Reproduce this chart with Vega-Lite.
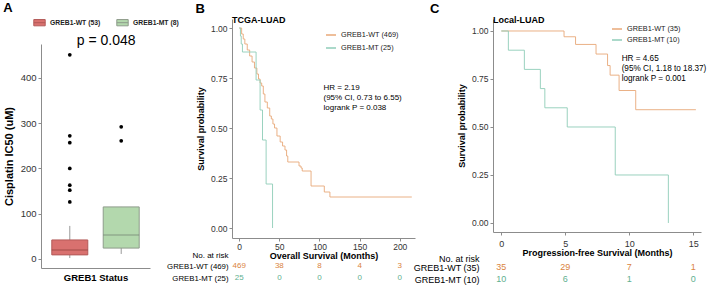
{
  "$schema": "https://vega.github.io/schema/vega-lite/v6.json",
  "padding": {"left": 3, "top": 2, "right": 0, "bottom": 0},
  "spacing": 16,
  "resolve": {"scale": {"color": "independent"}, "legend": {"color": "independent"}},
  "config": {
    "view": {"stroke": null},
    "font": "Liberation Sans",
    "axis": {"grid": false, "domainColor": "#8c8c8c", "tickColor": "#8c8c8c", "labelColor": "#333333", "titleColor": "#000000", "labelFontSize": 8.5, "titleFontSize": 9, "titleFontWeight": "bold", "tickSize": 3, "labelPadding": 2},
    "legend": {"labelColor": "#222222"},
    "title": {"color": "#000000"}
  },
  "datasets": {
    "boxstats": [
      {"group": "GREB1-WT (53)", "lo": 2, "q1": 9, "med": 20, "q3": 42, "hi": 73},
      {"group": "GREB1-MT (8)", "lo": 11, "q1": 24, "med": 53, "q3": 115, "hi": 115}
    ],
    "outliers": [
      {"group": "GREB1-WT (53)", "v": 451},
      {"group": "GREB1-WT (53)", "v": 272},
      {"group": "GREB1-WT (53)", "v": 257},
      {"group": "GREB1-WT (53)", "v": 200},
      {"group": "GREB1-WT (53)", "v": 163},
      {"group": "GREB1-WT (53)", "v": 152},
      {"group": "GREB1-WT (53)", "v": 126},
      {"group": "GREB1-MT (8)", "v": 292},
      {"group": "GREB1-MT (8)", "v": 261}
    ],
    "tcga": [
      {"grp": "GREB1-WT (469)", "t": 0, "s": 1.0},
      {"grp": "GREB1-WT (469)", "t": 3, "s": 0.97},
      {"grp": "GREB1-WT (469)", "t": 5, "s": 0.945},
      {"grp": "GREB1-WT (469)", "t": 7, "s": 0.92},
      {"grp": "GREB1-WT (469)", "t": 10, "s": 0.89},
      {"grp": "GREB1-WT (469)", "t": 13, "s": 0.86},
      {"grp": "GREB1-WT (469)", "t": 16, "s": 0.83},
      {"grp": "GREB1-WT (469)", "t": 19, "s": 0.8},
      {"grp": "GREB1-WT (469)", "t": 22, "s": 0.77},
      {"grp": "GREB1-WT (469)", "t": 24, "s": 0.745},
      {"grp": "GREB1-WT (469)", "t": 26, "s": 0.725},
      {"grp": "GREB1-WT (469)", "t": 28, "s": 0.71},
      {"grp": "GREB1-WT (469)", "t": 30, "s": 0.67},
      {"grp": "GREB1-WT (469)", "t": 32, "s": 0.63},
      {"grp": "GREB1-WT (469)", "t": 35, "s": 0.6},
      {"grp": "GREB1-WT (469)", "t": 38, "s": 0.56},
      {"grp": "GREB1-WT (469)", "t": 40, "s": 0.545},
      {"grp": "GREB1-WT (469)", "t": 42, "s": 0.52},
      {"grp": "GREB1-WT (469)", "t": 44, "s": 0.5},
      {"grp": "GREB1-WT (469)", "t": 47, "s": 0.46},
      {"grp": "GREB1-WT (469)", "t": 51, "s": 0.43},
      {"grp": "GREB1-WT (469)", "t": 54, "s": 0.41},
      {"grp": "GREB1-WT (469)", "t": 57, "s": 0.39},
      {"grp": "GREB1-WT (469)", "t": 59, "s": 0.36},
      {"grp": "GREB1-WT (469)", "t": 60.5, "s": 0.33},
      {"grp": "GREB1-WT (469)", "t": 74.5, "s": 0.31},
      {"grp": "GREB1-WT (469)", "t": 77, "s": 0.3},
      {"grp": "GREB1-WT (469)", "t": 78.5, "s": 0.285},
      {"grp": "GREB1-WT (469)", "t": 89.5, "s": 0.21},
      {"grp": "GREB1-WT (469)", "t": 106, "s": 0.18},
      {"grp": "GREB1-WT (469)", "t": 113, "s": 0.155},
      {"grp": "GREB1-WT (469)", "t": 215, "s": 0.155},
      {"grp": "GREB1-MT (25)", "t": 0, "s": 1.0},
      {"grp": "GREB1-MT (25)", "t": 1.5, "s": 0.96},
      {"grp": "GREB1-MT (25)", "t": 2.5, "s": 0.92},
      {"grp": "GREB1-MT (25)", "t": 4, "s": 0.88},
      {"grp": "GREB1-MT (25)", "t": 21, "s": 0.74},
      {"grp": "GREB1-MT (25)", "t": 26, "s": 0.59},
      {"grp": "GREB1-MT (25)", "t": 29, "s": 0.44},
      {"grp": "GREB1-MT (25)", "t": 33.5, "s": 0.22},
      {"grp": "GREB1-MT (25)", "t": 41.5, "s": 0.0}
    ],
    "local": [
      {"grp": "GREB1-WT (35)", "t": 0, "s": 1.0},
      {"grp": "GREB1-WT (35)", "t": 4.9, "s": 0.97},
      {"grp": "GREB1-WT (35)", "t": 5.8, "s": 0.93},
      {"grp": "GREB1-WT (35)", "t": 7.4, "s": 0.88},
      {"grp": "GREB1-WT (35)", "t": 8.3, "s": 0.82},
      {"grp": "GREB1-WT (35)", "t": 8.5, "s": 0.77},
      {"grp": "GREB1-WT (35)", "t": 9.2, "s": 0.69},
      {"grp": "GREB1-WT (35)", "t": 10.5, "s": 0.59},
      {"grp": "GREB1-WT (35)", "t": 15.2, "s": 0.59},
      {"grp": "GREB1-MT (10)", "t": 0, "s": 1.0},
      {"grp": "GREB1-MT (10)", "t": 0.55, "s": 0.9},
      {"grp": "GREB1-MT (10)", "t": 1.8, "s": 0.8},
      {"grp": "GREB1-MT (10)", "t": 3.05, "s": 0.7},
      {"grp": "GREB1-MT (10)", "t": 3.4, "s": 0.6},
      {"grp": "GREB1-MT (10)", "t": 5.15, "s": 0.5},
      {"grp": "GREB1-MT (10)", "t": 8.9, "s": 0.25},
      {"grp": "GREB1-MT (10)", "t": 13.05, "s": 0.0}
    ],
    "riskB": [
      {"row": "GREB1-WT (469)", "t": 0, "n": 469},
      {"row": "GREB1-WT (469)", "t": 50, "n": 38},
      {"row": "GREB1-WT (469)", "t": 100, "n": 8},
      {"row": "GREB1-WT (469)", "t": 150, "n": 4},
      {"row": "GREB1-WT (469)", "t": 200, "n": 3},
      {"row": "GREB1-MT (25)", "t": 0, "n": 25},
      {"row": "GREB1-MT (25)", "t": 50, "n": 0},
      {"row": "GREB1-MT (25)", "t": 100, "n": 0},
      {"row": "GREB1-MT (25)", "t": 150, "n": 0},
      {"row": "GREB1-MT (25)", "t": 200, "n": 0}
    ],
    "riskC": [
      {"row": "GREB1-WT (35)", "t": 0, "n": 35},
      {"row": "GREB1-WT (35)", "t": 5, "n": 29},
      {"row": "GREB1-WT (35)", "t": 10, "n": 7},
      {"row": "GREB1-WT (35)", "t": 15, "n": 1},
      {"row": "GREB1-MT (10)", "t": 0, "n": 10},
      {"row": "GREB1-MT (10)", "t": 5, "n": 6},
      {"row": "GREB1-MT (10)", "t": 10, "n": 1},
      {"row": "GREB1-MT (10)", "t": 15, "n": 0}
    ]
  },
  "hconcat": [
    {
      "title": {"text": "A", "anchor": "start", "frame": "bounds", "fontSize": 13, "fontWeight": "bold", "offset": 4},
      "spacing": 0,
      "vconcat": [
        {
          "width": 109,
          "height": 14,
          "data": {"values": []},
          "mark": "point"
        },
        {
          "width": 109,
          "height": 224,
          "layer": [
            {
              "data": {"name": "boxstats"},
              "mark": {"type": "rule", "color": "#9a9a9a", "strokeWidth": 1},
              "encoding": {
                "x": {"field": "group", "type": "nominal", "sort": ["GREB1-WT (53)", "GREB1-MT (8)"], "scale": {"paddingInner": 0.3, "paddingOuter": 0.21}, "axis": {"labels": false, "ticks": false, "title": "GREB1 Status", "titleFontSize": 9.5, "titlePadding": 4}},
                "y": {"field": "lo", "type": "quantitative", "scale": {"domain": [-20, 475], "nice": false, "zero": false}, "axis": {"values": [0, 100, 200, 300, 400], "title": "Cisplatin IC50 (uM)", "titleFontSize": 11, "labelFontSize": 9.5, "titlePadding": 6}},
                "y2": {"field": "hi"}
              }
            },
            {
              "data": {"name": "boxstats"},
              "mark": {"type": "bar", "strokeWidth": 1},
              "encoding": {
                "x": {"field": "group", "type": "nominal", "sort": ["GREB1-WT (53)", "GREB1-MT (8)"]},
                "y": {"field": "q1", "type": "quantitative"},
                "y2": {"field": "q3"},
                "fill": {"field": "group", "type": "nominal", "scale": {"domain": ["GREB1-WT (53)", "GREB1-MT (8)"], "range": ["#D9716F", "#B3D8AD"]}, "legend": {"orient": "none", "legendX": -8, "legendY": -3, "direction": "horizontal", "title": null, "symbolType": "M-1,-0.55L1,-0.55L1,0.55L-1,0.55Z M-1,0L1,0", "symbolSize": 130, "symbolStrokeWidth": 1, "labelFontSize": 6.8, "labelFontWeight": "bold", "labelOffset": 4, "columnPadding": 13}},
                "stroke": {"field": "group", "type": "nominal", "scale": {"domain": ["GREB1-WT (53)", "GREB1-MT (8)"], "range": ["#B35A58", "#8E9C8B"]}, "legend": {"orient": "none", "legendX": -8, "legendY": -3, "direction": "horizontal", "title": null, "symbolType": "M-1,-0.55L1,-0.55L1,0.55L-1,0.55Z M-1,0L1,0", "symbolSize": 130, "symbolStrokeWidth": 1, "labelFontSize": 6.8, "labelFontWeight": "bold", "labelOffset": 4, "columnPadding": 13}}
              }
            },
            {
              "data": {"name": "boxstats"},
              "mark": {"type": "tick", "thickness": 1, "size": 36},
              "encoding": {
                "x": {"field": "group", "type": "nominal", "sort": ["GREB1-WT (53)", "GREB1-MT (8)"]},
                "y": {"field": "med", "type": "quantitative"},
                "color": {"condition": {"test": "datum.group === 'GREB1-WT (53)'", "value": "#8B3C3B"}, "value": "#6E7C6C"}
              }
            },
            {
              "data": {"name": "outliers"},
              "mark": {"type": "circle", "size": 14, "color": "#000000", "opacity": 1},
              "encoding": {
                "x": {"field": "group", "type": "nominal", "sort": ["GREB1-WT (53)", "GREB1-MT (8)"]},
                "y": {"field": "v", "type": "quantitative"}
              }
            },
            {
              "data": {"values": [{}]},
              "mark": {"type": "text", "fontSize": 14, "dx": -15, "baseline": "middle"},
              "encoding": {
                "x": {"datum": "GREB1-MT (8)"},
                "y": {"datum": 482},
                "text": {"value": "p = 0.048"}
              }
            }
          ]
        }
      ]
    },
    {
      "spacing": -3,
      "resolve": {"scale": {"color": "independent"}, "legend": {"color": "independent"}},
      "hconcat": [
        {
          "title": {"text": "B", "anchor": "start", "frame": "bounds", "dx": 29, "fontSize": 13, "fontWeight": "bold", "offset": 0},
          "spacing": 0,
          "vconcat": [
            {
              "width": 183,
              "height": 219,
              "title": {"text": "TCGA-LUAD", "anchor": "start", "frame": "group", "fontSize": 9, "fontWeight": "bold", "offset": -6},
              "layer": [
                {
                  "data": {"name": "tcga"},
                  "mark": {"type": "line", "interpolate": "step-after", "strokeWidth": 0.9},
                  "encoding": {
                    "x": {"field": "t", "type": "quantitative", "scale": {"domain": [-9, 219], "nice": false, "zero": false}, "axis": {"values": [0, 50, 100, 150, 200], "title": null, "labelPadding": 1}},
                    "y": {"field": "s", "type": "quantitative", "scale": {"domain": [-0.05, 1.045], "nice": false, "zero": false}, "axis": {"values": [0, 0.25, 0.5, 0.75, 1], "format": ".2f", "title": "Survival probability", "titlePadding": 5}},
                    "color": {"field": "grp", "type": "nominal", "scale": {"domain": ["GREB1-WT (469)", "GREB1-MT (25)"], "range": ["#E8A878", "#8FCDB8"]}, "legend": {"orient": "none", "legendX": 93, "legendY": 10, "title": null, "symbolType": "stroke", "symbolStrokeWidth": 1.5, "symbolSize": 100, "labelFontSize": 7.3, "rowPadding": 3}}
                  }
                },
                {
                  "data": {"values": [{}]},
                  "mark": {"type": "text", "align": "left", "baseline": "top", "fontSize": 8, "lineHeight": 10},
                  "encoding": {
                    "x": {"datum": 105},
                    "y": {"datum": 0.72},
                    "text": {"value": ["HR = 2.19", "(95% CI, 0.73 to 6.55)", "logrank P = 0.038"]}
                  }
                }
              ]
            },
            {
              "width": 183,
              "height": 24,
              "data": {"name": "riskB"},
              "mark": {"type": "text", "fontSize": 8},
              "encoding": {
                "x": {"field": "t", "type": "quantitative", "scale": {"domain": [-9, 219], "nice": false, "zero": false}, "axis": {"orient": "top", "labels": false, "ticks": false, "domain": false, "title": "Overall Survival (Months)", "titlePadding": 0, "titleFontSize": 9}},
                "y": {"field": "row", "type": "nominal", "sort": ["GREB1-WT (469)", "GREB1-MT (25)"], "axis": {"title": "No. at risk", "titleAngle": 0, "titleAlign": "right", "titleBaseline": "middle", "titleX": -4, "titleY": -5, "titleFontWeight": "normal", "titleFontSize": 8, "domain": false, "ticks": false, "labelPadding": 4, "labelFontSize": 7.8, "labelColor": "#000000"}},
                "text": {"field": "n", "type": "nominal"},
                "color": {"condition": {"test": "indexof(datum.row, 'WT') >= 0", "value": "#DA8440"}, "value": "#5FB08F"}
              }
            }
          ]
        },
        {
          "title": {"text": "C", "anchor": "start", "frame": "bounds", "dx": 17, "fontSize": 13, "fontWeight": "bold", "offset": 0},
          "spacing": 0,
          "vconcat": [
            {
              "width": 208,
              "height": 213,
              "title": {"text": "Local-LUAD", "anchor": "start", "frame": "group", "fontSize": 9, "fontWeight": "bold", "offset": -6},
              "layer": [
                {
                  "data": {"name": "local"},
                  "mark": {"type": "line", "interpolate": "step-after", "strokeWidth": 0.9},
                  "encoding": {
                    "x": {"field": "t", "type": "quantitative", "scale": {"domain": [-0.65, 15.6], "nice": false, "zero": false}, "axis": {"values": [0, 5, 10, 15], "title": null, "labelFontSize": 9, "labelPadding": 4}},
                    "y": {"field": "s", "type": "quantitative", "scale": {"domain": [-0.047, 1.0625], "nice": false, "zero": false}, "axis": {"values": [0, 0.25, 0.5, 0.75, 1], "format": ".2f", "title": "Survival probability", "titlePadding": 5}},
                    "color": {"field": "grp", "type": "nominal", "scale": {"domain": ["GREB1-WT (35)", "GREB1-MT (10)"], "range": ["#E8A878", "#8FCDB8"]}, "legend": {"orient": "none", "legendX": 118, "legendY": 4, "title": null, "symbolType": "stroke", "symbolStrokeWidth": 1.5, "symbolSize": 100, "labelFontSize": 7.3, "rowPadding": 1}}
                  }
                },
                {
                  "data": {"values": [{}]},
                  "mark": {"type": "text", "align": "left", "baseline": "top", "fontSize": 8.2, "lineHeight": 10},
                  "encoding": {
                    "x": {"datum": 9.4},
                    "y": {"datum": 0.875},
                    "text": {"value": ["HR = 4.65", "(95% CI, 1.18 to 18.37)", "logrank P = 0.001"]}
                  }
                }
              ]
            },
            {
              "width": 208,
              "height": 24,
              "data": {"name": "riskC"},
              "mark": {"type": "text", "fontSize": 9},
              "encoding": {
                "x": {"field": "t", "type": "quantitative", "scale": {"domain": [-0.65, 15.6], "nice": false, "zero": false}, "axis": {"orient": "top", "labels": false, "ticks": false, "domain": false, "title": "Progression-free Survival (Months)", "titlePadding": 4, "titleFontSize": 9}},
                "y": {"field": "row", "type": "nominal", "sort": ["GREB1-WT (35)", "GREB1-MT (10)"], "axis": {"title": "No. at risk", "titleAngle": 0, "titleAlign": "right", "titleBaseline": "middle", "titleX": -14, "titleY": -3, "titleFontWeight": "normal", "titleFontSize": 9, "domain": false, "ticks": false, "labelPadding": 14, "labelFontSize": 9, "labelColor": "#000000"}},
                "text": {"field": "n", "type": "nominal"},
                "color": {"condition": {"test": "indexof(datum.row, 'WT') >= 0", "value": "#DA8440"}, "value": "#5FB08F"}
              }
            }
          ]
        }
      ]
    }
  ]
}
